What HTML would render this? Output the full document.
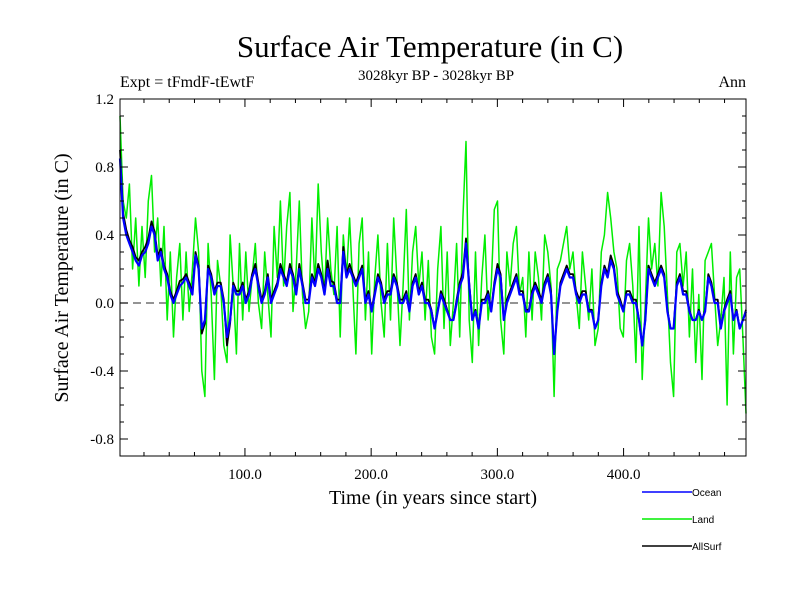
<!DOCTYPE html>
<html><head><meta charset="utf-8"><style>
body{margin:0;background:#fff;}
svg text{font-family:"Liberation Serif",serif;}
</style></head><body>
<svg id="chart" width="800" height="600" viewBox="0 0 800 600">
<text x="430" y="57" font-size="31" text-anchor="middle">Surface Air Temperature (in C)</text>
<text x="120" y="87" font-size="16">Expt = tFmdF-tEwtF</text>
<text x="436" y="80" font-size="15" text-anchor="middle">3028kyr BP - 3028kyr BP</text>
<text x="746" y="87" font-size="16" text-anchor="end">Ann</text>
<text transform="translate(68,278) rotate(-90)" font-size="20" text-anchor="middle">Surface Air Temperature (in C)</text>
<text x="433" y="504" font-size="20" text-anchor="middle">Time (in years since start)</text>
<g id="series"></g>
<g id="axes"></g>
<g id="legend"></g>
</svg>
<script>
const ocean=[0.85,0.5,0.4,0.35,0.3,0.25,0.22,0.28,0.3,0.35,0.45,0.4,0.25,0.3,0.2,0.15,0.05,0.0,0.05,0.1,
0.12,0.15,0.1,0.05,0.28,0.2,-0.15,-0.1,0.2,0.15,0.05,0.1,0.1,0.0,-0.2,-0.1,0.1,0.05,0.05,0.1,
0.0,0.05,0.15,0.2,0.1,0.0,0.05,0.15,0.0,0.05,0.1,0.2,0.15,0.1,0.2,0.15,0.05,0.2,0.1,0.0,
0.0,0.15,0.1,0.2,0.15,0.05,0.2,0.1,0.1,0.0,0.0,0.3,0.15,0.2,0.15,0.1,0.15,0.2,0.0,0.05,
-0.05,0.05,0.15,0.1,0.0,0.05,0.05,0.15,0.1,0.0,0.0,0.05,-0.05,0.1,0.15,0.05,0.1,0.0,0.0,-0.05,
-0.15,-0.05,0.05,0.0,-0.05,-0.1,-0.1,0.0,0.1,0.15,0.35,0.1,-0.1,-0.05,-0.15,0.0,0.0,0.05,-0.05,0.1,
0.2,0.15,-0.1,0.0,0.05,0.1,0.15,0.05,0.05,-0.05,-0.05,0.05,0.1,0.05,0.0,0.1,0.15,0.05,-0.3,-0.05,
0.1,0.15,0.2,0.15,0.15,0.05,0.0,0.05,0.05,-0.05,-0.05,-0.15,-0.1,0.1,0.2,0.15,0.25,0.2,0.05,0.0,
-0.05,0.05,0.05,0.0,0.0,-0.1,-0.25,-0.1,0.2,0.15,0.1,0.15,0.2,0.15,-0.05,-0.15,-0.15,0.1,0.15,0.05,
0.05,-0.05,-0.1,-0.1,-0.05,-0.1,-0.05,0.15,0.1,0.0,0.0,-0.15,-0.05,0.0,0.05,-0.1,-0.05,-0.15,-0.1,-0.05];
const land=[1.1,0.6,0.5,0.7,0.2,0.5,0.1,0.45,0.15,0.6,0.75,0.3,0.5,0.1,0.45,-0.1,0.3,-0.2,0.15,0.35,
-0.1,0.3,-0.05,0.2,0.5,0.3,-0.4,-0.55,0.35,0.05,-0.45,0.25,0.1,-0.25,-0.35,0.4,0.1,-0.3,0.35,-0.1,
0.3,-0.05,0.15,0.35,0.0,-0.15,0.3,0.05,-0.2,0.45,0.15,0.6,0.1,0.45,0.65,-0.05,0.2,0.6,0.05,-0.15,
-0.05,0.5,0.1,0.7,0.3,0.05,0.5,0.2,0.05,0.45,-0.2,0.4,0.15,0.5,0.1,-0.3,0.35,0.5,-0.1,0.3,
-0.3,0.15,0.4,0.0,-0.2,0.35,-0.1,0.5,0.15,-0.25,0.1,0.55,-0.1,0.3,0.45,0.1,0.3,-0.1,0.25,-0.2,
-0.3,0.2,0.45,-0.15,0.3,-0.25,0.0,0.35,-0.2,0.5,0.95,-0.1,-0.35,0.3,-0.25,0.15,0.4,-0.1,0.1,0.55,
0.6,-0.1,-0.3,0.3,0.1,0.35,0.45,0.05,0.15,-0.2,0.3,-0.1,0.3,0.15,-0.1,0.4,0.3,0.1,-0.55,0.2,
0.25,0.35,0.45,0.2,0.3,0.05,-0.15,0.3,0.1,-0.1,0.2,-0.25,-0.15,0.3,0.4,0.65,0.5,0.3,0.2,-0.15,
-0.2,0.25,0.35,0.1,-0.35,0.45,-0.45,0.0,0.5,0.2,0.35,0.1,0.65,0.45,0.05,-0.35,-0.55,0.3,0.35,0.1,
0.3,-0.2,0.2,-0.35,0.05,-0.45,0.25,0.3,0.35,0.05,-0.25,-0.1,0.15,-0.6,0.3,-0.3,0.15,0.2,-0.2,-0.65];
const allsurf=[0.9,0.53,0.43,0.37,0.33,0.27,0.25,0.3,0.33,0.38,0.48,0.42,0.28,0.32,0.22,0.17,0.07,0.02,0.07,0.13,
0.14,0.17,0.12,0.07,0.3,0.22,-0.18,-0.12,0.22,0.17,0.07,0.12,0.12,0.02,-0.25,-0.12,0.12,0.07,0.07,0.12,
0.02,0.07,0.17,0.23,0.12,0.02,0.07,0.17,0.02,0.07,0.12,0.23,0.17,0.12,0.23,0.17,0.07,0.23,0.12,0.02,
0.02,0.17,0.12,0.23,0.17,0.07,0.25,0.13,0.12,0.02,0.02,0.33,0.17,0.23,0.17,0.12,0.17,0.22,0.02,0.07,
-0.04,0.07,0.17,0.12,0.02,0.07,0.07,0.17,0.12,0.02,0.02,0.07,-0.04,0.12,0.17,0.07,0.12,0.02,0.02,-0.04,
-0.15,-0.04,0.07,0.02,-0.04,-0.1,-0.1,0.02,0.12,0.18,0.38,0.12,-0.1,-0.04,-0.15,0.02,0.02,0.07,-0.04,0.12,
0.23,0.17,-0.1,0.02,0.07,0.12,0.17,0.07,0.07,-0.04,-0.04,0.07,0.12,0.07,0.02,0.12,0.17,0.07,-0.3,-0.04,
0.12,0.17,0.22,0.17,0.17,0.07,0.02,0.07,0.07,-0.04,-0.04,-0.15,-0.1,0.12,0.22,0.17,0.28,0.22,0.07,0.02,
-0.04,0.07,0.07,0.02,0.02,-0.1,-0.25,-0.1,0.22,0.17,0.12,0.17,0.22,0.17,-0.04,-0.15,-0.15,0.12,0.17,0.07,
0.07,-0.04,-0.1,-0.1,-0.04,-0.1,-0.04,0.17,0.12,0.02,0.02,-0.15,-0.04,0.02,0.07,-0.1,-0.04,-0.15,-0.1,-0.04];
const yTicks=[1.2,0.8,0.4,0.0,-0.4,-0.8];
const yTickLabels=["1.2","0.8","0.4","0.0","-0.4","-0.8"];
const xTicks=[100,200,300,400];
const xTickLabels=["100.0","200.0","300.0","400.0"];
const NS="http://www.w3.org/2000/svg";
const L=120,R=746,T=99,B=456, X0=1,X1=497, Y0=-0.9,Y1=1.2;
function xs(v){return L+(v-X0)/(X1-X0)*(R-L);}
function ys(v){return B-(v-Y0)/(Y1-Y0)*(B-T);}
function mk(tag,attrs,parent){const e=document.createElementNS(NS,tag);for(const k in attrs)e.setAttribute(k,attrs[k]);parent.appendChild(e);return e;}
const sg=document.getElementById('series'), ag=document.getElementById('axes'), lg=document.getElementById('legend');
let z=mk('line',{x1:L,x2:R,y1:ys(0),y2:ys(0),stroke:'#555','stroke-width':1.3,'stroke-dasharray':'8,5'},sg);


function drawSeries(arr,color,w,name){
  const step=(X1-X0)/(arr.length-1);
  const pts=arr.map((v,i)=>xs(X0+i*step).toFixed(1)+','+ys(v).toFixed(1)).join(' ');
  const p=mk('polyline',{points:pts,fill:'none',stroke:color,'stroke-width':w,'stroke-linejoin':'round'},sg);
  
  
}
drawSeries(land,'#00ee00',1.5,'land-line');
drawSeries(allsurf,'#000000',1.8,'allsurf-line');
drawSeries(ocean,'#0000ff',2.2,'ocean-line');
let fr=mk('rect',{x:L,y:T,width:R-L,height:B-T,fill:'none',stroke:'#000','stroke-width':1},ag);


for(let v=20;v<X1;v+=20){const x=xs(v),len=(v%100===0)?8:4;
  let t1=mk('line',{x1:x,x2:x,y1:B,y2:B-len,stroke:'#000'},ag);
  
  
  let t2=mk('line',{x1:x,x2:x,y1:T,y2:T+len,stroke:'#000'},ag);
  
  }
xTicks.forEach((v,i)=>{let t=mk('text',{x:xs(v),y:B+23,'font-size':15,'text-anchor':'middle'},ag);t.textContent=xTickLabels[i];
  
  });
for(let k=-8;k<=12;k++){const v=k/10,y=ys(v),len=(k%4===0)?8:4;
  let t1=mk('line',{x1:L,x2:L+len,y1:y,y2:y,stroke:'#000'},ag);
  
  
  let t2=mk('line',{x1:R,x2:R-len,y1:y,y2:y,stroke:'#000'},ag);
  
  }
yTicks.forEach((v,i)=>{let t=mk('text',{x:L-6,y:ys(v)+5,'font-size':15,'text-anchor':'end'},ag);t.textContent=yTickLabels[i];
  
  });
[['Ocean','#0000ff',492],['Land','#00ee00',519],['AllSurf','#000000',546]].forEach(d=>{
  let l=mk('line',{x1:642,x2:692,y1:d[2],y2:d[2],stroke:d[1],'stroke-width':1.5},lg);
  
  
  let t=mk('text',{x:692,y:d[2]+4,'font-size':10,style:'font-family:"Liberation Sans",sans-serif'},lg);t.textContent=d[0];
  
  });
</script>
</body></html>
